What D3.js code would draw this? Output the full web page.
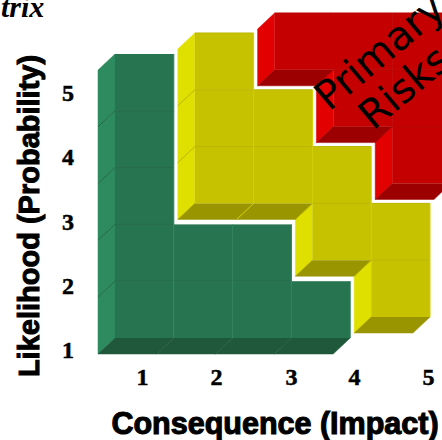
<!DOCTYPE html>
<html>
<head>
<meta charset="utf-8">
<script src="https://cdn.jsdelivr.net/npm/d3@7"></script>
<style>
  html, body { margin: 0; padding: 0; background: #fff; overflow: hidden; }
  svg { display: block; }
</style>
</head>
<body>
<svg id="drawing_region"></svg>
<script>
const consequence = [1, 2, 3, 4, 5];
const likelihood = [5, 4, 3, 2, 1];

// risk level of every cell, rows from likelihood 5 down to 1
// 0 = low, 1 = medium, 2 = primary
const row_l5 = [0, 1, 2, 2, 2];
const row_l4 = [0, 1, 1, 2, 2];
const row_l3 = [0, 1, 1, 1, 2];
const row_l2 = [0, 0, 0, 1, 1];
const row_l1 = [0, 0, 0, 0, 1];
const levels = [row_l5, row_l4, row_l3, row_l2, row_l1];

const xlabel_text = "Consequence (Impact)";
const ylabel_text = "Likelihood (Probability)";
const title_text = "trix";
const risk_lines = ["Primary", "Risks"];

const width = 442, height = 440;
const depth = {x: 17, y: 16};

const styles = [
    {dx: 0,  dy: 0,   side: "#2e8b5f", front: "#277550", bottom: "#1f583b", hline: "#226847", vline: "#2f8059"},
    {dx: 21, dy: -21, side: "#e0e000", front: "#c6c200", bottom: "#999500", hline: "#b9b500", vline: "#d2ce00"},
    {dx: 42, dy: -41, side: "#e20000", front: "#c40000", bottom: "#9c0000", hline: "#b80000", vline: "#bb0000"}
];

const svg = d3.select("#drawing_region")
    .attr("width", width)
    .attr("height", height);

const xscale = d3.scaleBand().domain(consequence).range([115, 409]);
const yscale = d3.scaleBand().domain(likelihood).range([54, 338]);

const cells = [];
likelihood.forEach((l, r) => {
    consequence.forEach((c, i) => {
        cells.push({c: c, l: l, r: r, i: i, level: levels[r][i]});
    });
});

const level_at = (r, i) => (levels[r] && levels[r][i] !== undefined) ? levels[r][i] : -1;

cells.forEach(d => {
    const s = styles[d.level];
    d.x0 = xscale(d.c) + s.dx;
    d.x1 = d.x0 + xscale.bandwidth();
    d.y0 = yscale(d.l) + s.dy;
    d.y1 = d.y0 + yscale.bandwidth();
    d.has_side = level_at(d.r, d.i - 1) !== d.level;
    d.has_bottom = level_at(d.r + 1, d.i) !== d.level;
    d.has_left = level_at(d.r, d.i - 1) === d.level;
    d.has_above = level_at(d.r - 1, d.i) === d.level;
});

const poly = pts => pts.map(p => p.join(",")).join(" ");

// extruded faces, stroked in their own colour so no seams show
svg.append("g").selectAll("polygon")
    .data(cells.filter(d => d.has_side))
    .enter().append("polygon")
    .attr("points", d => poly([[d.x0, d.y0], [d.x0 - depth.x, d.y0 + depth.y], [d.x0 - depth.x, d.y1 + depth.y], [d.x0, d.y1]]))
    .attr("fill", d => styles[d.level].side)
    .attr("stroke", d => styles[d.level].side)
    .attr("stroke-width", 0.5);

svg.append("g").selectAll("polygon")
    .data(cells.filter(d => d.has_bottom))
    .enter().append("polygon")
    .attr("points", d => poly([[d.x0, d.y1], [d.x1, d.y1], [d.x1 - depth.x, d.y1 + depth.y], [d.x0 - depth.x, d.y1 + depth.y]]))
    .attr("fill", d => styles[d.level].bottom)
    .attr("stroke", d => styles[d.level].bottom)
    .attr("stroke-width", 0.5);

// front faces
svg.append("g").selectAll("rect")
    .data(cells)
    .enter().append("rect")
    .attr("x", d => d.x0)
    .attr("y", d => d.y0)
    .attr("width", xscale.bandwidth())
    .attr("height", yscale.bandwidth())
    .attr("fill", d => styles[d.level].front);

// edges between the cells
const edges = svg.append("g").attr("fill", "none").attr("stroke-width", 1);

edges.selectAll(".h")
    .data(cells.filter(d => d.level === 0 ? d.has_above : true))
    .enter().append("polyline")
    .attr("points", d => d.has_side && d.has_above
        ? poly([[d.x0 - depth.x, d.y0 + depth.y], [d.x0, d.y0], [d.x1, d.y0]])
        : poly([[d.x0, d.y0], [d.x1, d.y0]]))
    .attr("stroke", d => styles[d.level].hline);

edges.selectAll(".v")
    .data(cells)
    .enter().append("line")
    .attr("x1", d => d.x1)
    .attr("x2", d => d.x1)
    .attr("y1", d => d.y0)
    .attr("y2", d => d.y1)
    .attr("stroke", d => styles[d.level].vline);

// separators in the bottom faces of the yellow steps
edges.selectAll(".b")
    .data(cells.filter(d => d.has_bottom && d.has_left && d.level === 1))
    .enter().append("line")
    .attr("x1", d => d.x0)
    .attr("y1", d => d.y1)
    .attr("x2", d => d.x0 - depth.x)
    .attr("y2", d => d.y1 + depth.y)
    .attr("stroke", styles[1].vline);

// axes, only the numbers are visible; the tick spots do not sit on the cells
const xtick = d3.scaleLinear().domain(consequence).range([142, 216, 291, 354, 428]);
const ytick = d3.scaleLinear().domain([1, 5]).range([350, 93]);

const xaxis = d3.axisBottom(xtick).tickValues(consequence).tickFormat(d3.format("d")).tickSize(0);
const yaxis = d3.axisLeft(ytick).tickValues(likelihood).tickFormat(d3.format("d")).tickSize(0);

const tick_font = "'Liberation Serif', serif";

const xaxis_group = svg.append("g").attr("transform", "translate(0, 360)").call(xaxis);
const yaxis_group = svg.append("g").attr("transform", "translate(75, 0)").call(yaxis);

[xaxis_group, yaxis_group].forEach(g => {
    g.select(".domain").remove();
    g.selectAll("text")
        .attr("font-family", tick_font)
        .attr("font-weight", "bold")
        .attr("font-size", 24)
        .attr("stroke", "#000")
        .attr("stroke-width", 0.5)
        .attr("fill", "#000");
});

xaxis_group.selectAll("text").attr("y", 8);
yaxis_group.selectAll("text").attr("x", -1);

// labels
svg.append("text")
    .attr("x", 275)
    .attr("y", 434)
    .attr("text-anchor", "middle")
    .attr("font-family", "'Liberation Sans', Arial, sans-serif")
    .attr("font-weight", "bold")
    .attr("font-size", 30.5)
    .attr("stroke", "#000")
    .attr("stroke-width", 1.1)
    .text(xlabel_text);

svg.append("text")
    .attr("transform", "translate(39, 216) rotate(-90)")
    .attr("text-anchor", "middle")
    .attr("font-family", "'Liberation Sans', Arial, sans-serif")
    .attr("font-weight", "bold")
    .attr("font-size", 29)
    .attr("stroke", "#000")
    .attr("stroke-width", 1)
    .text(ylabel_text);

svg.append("text")
    .attr("x", 1)
    .attr("y", 17)
    .attr("font-family", "'Liberation Serif', serif")
    .attr("font-weight", "bold")
    .attr("font-style", "italic")
    .attr("font-size", 30)
    .text(title_text);

// rotated caption on the red block
const risk_spots = [[329, 112], [373, 131]];
risk_lines.forEach((t, i) => {
    svg.append("text")
        .attr("transform", `translate(${risk_spots[i][0]}, ${risk_spots[i][1]}) rotate(-40)`)
        .attr("font-family", "'DejaVu Sans', sans-serif")
        .attr("font-size", 40)
        .attr("fill", "#000")
        .text(t);
});
</script>
</body>
</html>
